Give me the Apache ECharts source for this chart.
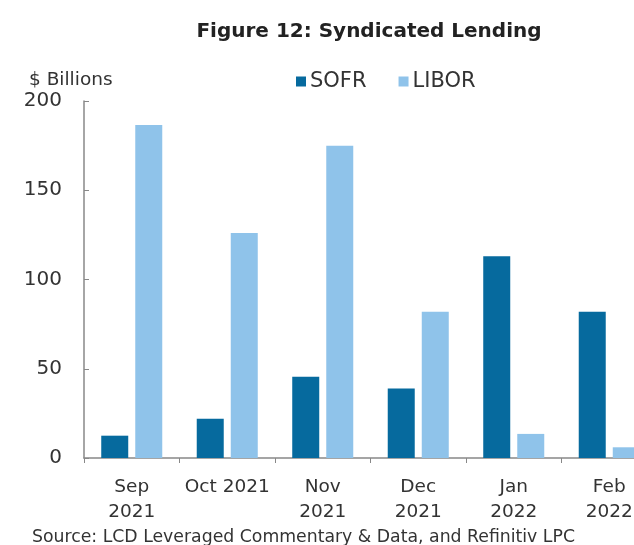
<!DOCTYPE html>
<html><head><meta charset="utf-8">
<script src="https://cdn.jsdelivr.net/npm/echarts@6/dist/echarts.min.js"></script>
<style>html,body{margin:0;padding:0;background:#fff;overflow:hidden;width:634px;height:545px}#c{width:657px;height:545px}</style>
</head><body><div id="c"></div>
<script>
const categories = ['Sep\n2021', 'Oct 2021', 'Nov\n2021', 'Dec\n2021', 'Jan\n2022', 'Feb\n2022'];
const sofr = [12.5, 22, 45.5, 39, 113, 82];
const libor = [186.5, 126, 175, 82, 13.5, 6];
const yTicks = [0, 50, 100, 150, 200];

const chart = echarts.init(document.getElementById('c'));
const font = 'DejaVu Sans, sans-serif';
chart.setOption({
  animation: false,
  title: [
    {text: 'Figure 12: Syndicated Lending', left: 364, top: 17, textAlign: 'center',
     textStyle: {fontFamily: font, fontSize: 20, fontWeight: 'bold', color: '#222'}},
    {text: '$ Billions', left: 24, top: 66,
     textStyle: {fontFamily: font, fontSize: 18.5, fontWeight: 'normal', color: '#333'}},
    {text: 'Source: LCD Leveraged Commentary & Data, and Refinitiv LPC', left: 27, top: 524,
     textStyle: {fontFamily: font, fontSize: 17.3, fontWeight: 'normal', color: '#333'}}
  ],
  legend: {
    left: 296, top: 71, itemWidth: 10, itemHeight: 10, itemGap: 32, padding: 0,
    icon: 'rect',
    textStyle: {fontFamily: font, fontSize: 21, color: '#333', padding: [0, 0, 0, -1]},
    data: ['SOFR', 'LIBOR']
  },
  grid: {left: 84, width: 573, top: 101, height: 357, containLabel: false},
  xAxis: {
    type: 'category', data: categories,
    axisLine: {lineStyle: {color: '#888', width: 1.5}},
    axisTick: {show: true, length: 5, lineStyle: {color: '#888'}},
    axisLabel: {fontFamily: font, fontSize: 18.5, color: '#333', lineHeight: 25, margin: 17, interval: 0}
  },
  yAxis: {
    type: 'value', min: 0, max: 200, interval: 50,
    axisLine: {show: true, lineStyle: {color: '#888', width: 1.5}},
    axisTick: {show: true, inside: true, length: 5, lineStyle: {color: '#888'}},
    splitLine: {show: false},
    axisLabel: {fontFamily: font, fontSize: 20, color: '#333', margin: 22,
      formatter: v => yTicks.includes(v) ? String(v) : ''}
  },
  series: [
    {name: 'SOFR', type: 'bar', data: sofr, barWidth: 27, barGap: '26%', itemStyle: {color: '#066a9e'}},
    {name: 'LIBOR', type: 'bar', data: libor, barWidth: 27, itemStyle: {color: '#8fc3ea'}}
  ]
});
</script></body></html>
